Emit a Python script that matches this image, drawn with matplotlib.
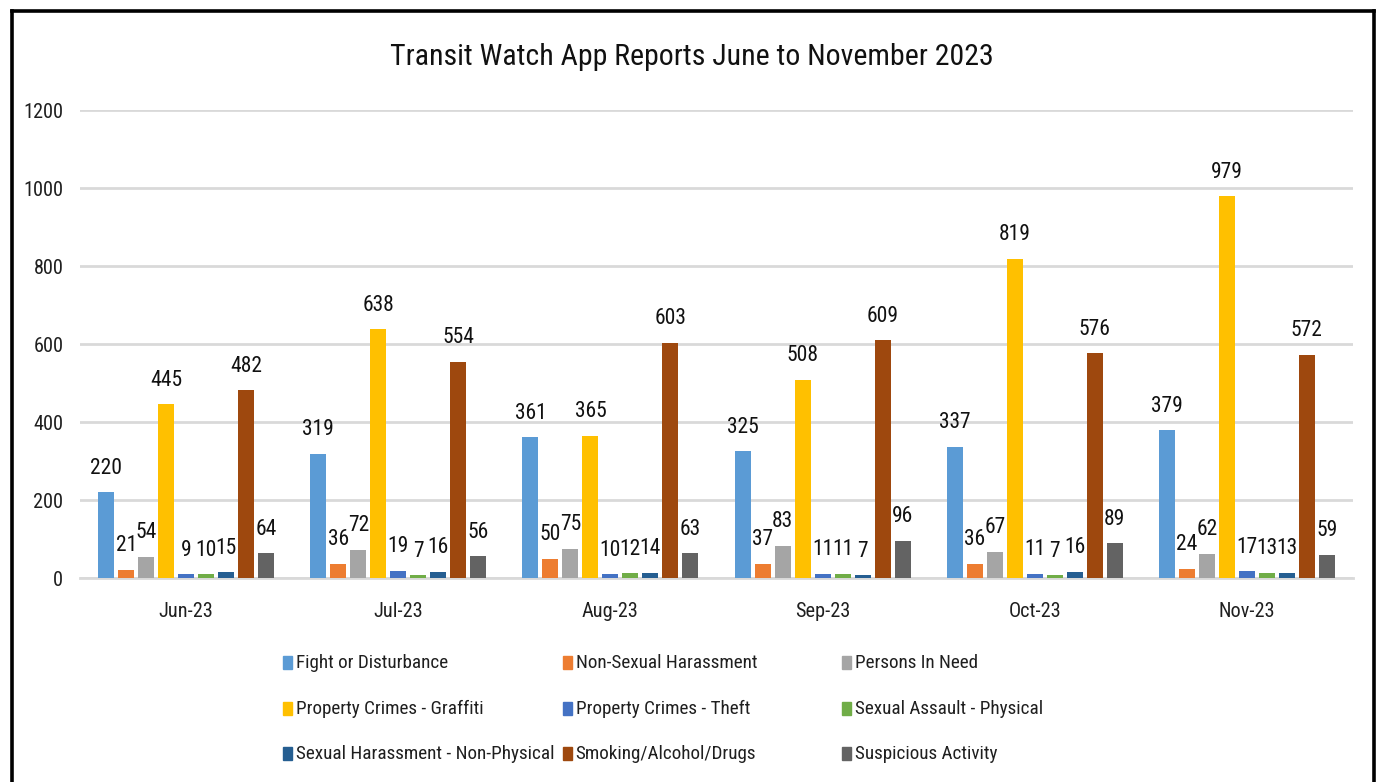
import matplotlib
matplotlib.use("Agg")
import matplotlib.pyplot as plt
from matplotlib.patches import Rectangle
from matplotlib.lines import Line2D
from matplotlib import font_manager
import numpy as np

available = {f.name for f in font_manager.fontManager.ttflist}
prefs = ['Liberation Sans Narrow', 'Roboto Condensed', 'Open Sans Condensed',
         'Noto Sans Condensed', 'Lato', 'Liberation Sans', 'DejaVu Sans']
family = [f for f in prefs if f in available] + ['DejaVu Sans']
plt.rcParams['font.family'] = family[:2] if family[0] != 'DejaVu Sans' else ['DejaVu Sans']

months = ["Jun-23", "Jul-23", "Aug-23", "Sep-23", "Oct-23", "Nov-23"]
series_names = [
    "Fight or Disturbance", "Non-Sexual Harassment", "Persons In Need",
    "Property Crimes - Graffiti", "Property Crimes - Theft", "Sexual Assault - Physical",
    "Sexual Harassment - Non-Physical", "Smoking/Alcohol/Drugs", "Suspicious Activity",
]
fight = [220, 319, 361, 325, 337, 379]
non_sexual = [21, 36, 50, 37, 36, 24]
persons = [54, 72, 75, 83, 67, 62]
graffiti = [445, 638, 365, 508, 819, 979]
theft = [9, 19, 10, 11, 11, 17]
assault = [10, 7, 12, 11, 7, 13]
harassment = [15, 16, 14, 7, 16, 13]
smoking = [482, 554, 603, 609, 576, 572]
suspicious = [64, 56, 63, 96, 89, 59]
yticks = [0, 200, 400, 600, 800, 1000, 1200]

all_series = [fight, non_sexual, persons, graffiti, theft, assault, harassment, smoking, suspicious]
colors = ["#5B9BD5", "#ED7D31", "#A5A5A5", "#FFC000", "#4472C4",
          "#70AD47", "#255E91", "#9E480E", "#636363"]

W, H = 1382, 782
fig = plt.figure(figsize=(W / 100, H / 100), dpi=100)
renderer = fig.canvas.get_renderer()
ax = fig.add_axes([80 / W, 1 - 578 / H, (1353 - 80) / W, (578 - 110) / H])


def fit_size(txt, size, target_w):
    t = fig.text(0, 0, txt, fontsize=size)
    w = t.get_window_extent(renderer).width
    t.remove()
    return size * target_w / w

label_size = min(16, fit_size("445", 16, 32))
tick_size = min(15, fit_size("1200", 15, 40))

x = np.arange(len(months))
slot = 0.0942
bw = 0.0753
n = len(all_series)
for i, (vals, c) in enumerate(zip(all_series, colors)):
    xs = x + (i - (n - 1) / 2) * slot
    ax.bar(xs, vals, width=bw, color=c, zorder=3)
    for xi, v in zip(xs, vals):
        ax.annotate(str(v), (xi, v), xytext=(0, 24), textcoords="offset pixels",
                    ha="center", va="center", fontsize=label_size, color="#111111", zorder=4)

ax.set_xlim(-0.5, len(months) - 0.5)
ax.set_ylim(0, 1200)
ax.set_yticks(yticks)
ax.set_yticklabels([str(t) for t in yticks], fontsize=tick_size, color="#1f1f1f")
ax.set_xticks(x)
ax.set_xticklabels(months, fontsize=tick_size, color="#1f1f1f")
ax.tick_params(axis="both", length=0)
ax.tick_params(axis="y", pad=12)
ax.tick_params(axis="x", pad=17)
ax.grid(axis="y", color="#D9D9D9", linewidth=2, zorder=0)
for s in ["top", "right", "left"]:
    ax.spines[s].set_visible(False)
ax.spines["bottom"].set_color("#D9D9D9")
ax.spines["bottom"].set_linewidth(2)

title = "Transit Watch App Reports June to November 2023"
title_size = min(24, fit_size(title, 20, 603))
fig.text(692 / W, 1 - 57 / H, title, ha="center", va="center",
         fontsize=title_size, color="#111111")

# legend (manual grid, equal width columns like the source)
leg_size = min(15, fit_size("Sexual Harassment - Non-Physical", 15, 258))
for i, (name, c) in enumerate(zip(series_names, colors)):
    col, row = i % 3, i // 3
    lx = 283 + col * 279.5
    ly = 662 + row * 45.5
    fig.add_artist(Rectangle((lx / W, 1 - (ly + 7) / H), 9 / W, 13 / H,
                             transform=fig.transFigure, color=c))
    fig.text((lx + 13) / W, 1 - (ly + 1) / H, name, ha="left", va="center",
             fontsize=leg_size, color="#1f1f1f")

# outer frame
for xs_, ys_ in [([12, 12], [782, 11]), ([12, 1374], [11, 11]), ([1374, 1374], [782, 11])]:
    fig.add_artist(Line2D([v / W for v in xs_], [1 - v / H for v in ys_], color="black",
                          linewidth=2.6, transform=fig.transFigure))

fig.savefig("out.png", dpi=100)
